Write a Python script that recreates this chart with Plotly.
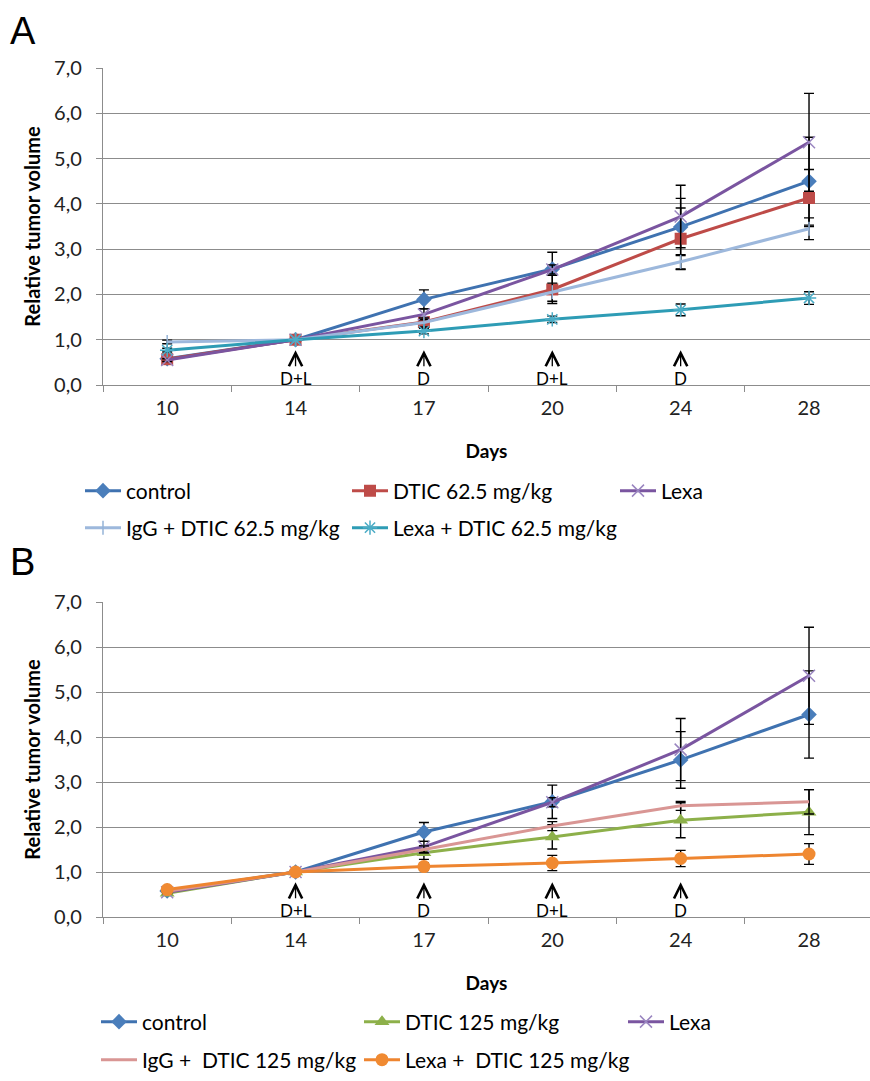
import plotly.graph_objects as go

days = ["10", "14", "17", "20", "24", "28"]
dose_days = ["14", "17", "20", "24"]
dose_labels = ["D+L", "D", "D+L", "D"]

# shared groups
control = [0.58, 1.00, 1.89, 2.56, 3.49, 4.50]
control_err = [0.03, 0.00, 0.21, 0.37, 0.63, 0.97]
lexa = [0.55, 1.00, 1.56, 2.55, 3.72, 5.36]
lexa_err = [0.03, 0.00, 0.12, 0.10, 0.69, 1.08]

# Panel A: DTIC 62.5 mg/kg
a_dtic = [0.57, 1.00, 1.39, 2.11, 3.23, 4.13]
a_dtic_err = [0.04, 0.00, 0.11, 0.31, 0.68, 0.63]
a_igg = [0.95, 1.00, 1.38, 2.05, 2.72, 3.45]
a_igg_err = [0.04, 0.00, 0.10, 0.20, 0.16, 0.24]
a_lexadtic = [0.77, 1.00, 1.19, 1.45, 1.66, 1.92]
a_lexadtic_err = [0.04, 0.00, 0.06, 0.07, 0.13, 0.14]

# Panel B: DTIC 125 mg/kg
b_dtic = [0.53, 1.00, 1.43, 1.78, 2.15, 2.33]
b_dtic_err = [0.03, 0.00, 0.15, 0.27, 0.39, 0.50]
b_igg = [0.57, 1.00, 1.50, 2.02, 2.47, 2.56]
b_igg_err = [0.03, 0.00, 0.08, 0.10, 0.10, 0.27]
b_lexadtic = [0.61, 1.00, 1.12, 1.20, 1.30, 1.40]
b_lexadtic_err = [0.03, 0.00, 0.08, 0.17, 0.18, 0.23]

W, H = 870, 1081
FONT = "Lato"
GRID = "#8c8c8c"

def py(px):
    return 1 - px / H

def px_x(px):
    return px / W

fig = go.Figure()

def add(name, y, err, color, marker, xa, ya, leg, mode="lines+markers", lw=3):
    fig.add_trace(go.Scatter(
        x=days, y=y, name=name, mode=mode,
        line=dict(color=color, width=lw),
        marker=marker,
        error_y=dict(type="data", array=err, visible=True, color="black",
                     thickness=1.4, width=5),
        xaxis=xa, yaxis=ya, legend=leg, showlegend=True,
    ))

# Panel A
add("control", control, control_err, "#3F72B0",
    dict(symbol="diamond", size=12, color="#4A7EBB"), "x", "y", "legend")
add("DTIC 62.5 mg/kg", a_dtic, a_dtic_err, "#BE4B48",
    dict(symbol="square", size=12, color="#BE4B48"), "x", "y", "legend2")
add("Lexa", lexa, lexa_err, "#7A55A0",
    dict(symbol="x-thin", size=12, color="#9A86C0", line=dict(color="#9A86C0", width=1.5)), "x", "y", "legend3")
add("IgG + DTIC 62.5 mg/kg", a_igg, a_igg_err, "#9DB8DC",
    dict(symbol="line-ns", size=10, color="#95B3D7", line=dict(color="#95B3D7", width=1.5)), "x", "y", "legend4")
add("Lexa + DTIC 62.5 mg/kg", a_lexadtic, a_lexadtic_err, "#2E9CB5",
    dict(symbol="asterisk", size=12, color="#4BACC6", line=dict(color="#4BACC6", width=1.5)), "x", "y", "legend5")

# Panel B
add("control", control, control_err, "#3F72B0",
    dict(symbol="diamond", size=12, color="#4A7EBB"), "x2", "y2", "legend6")
add("DTIC 125 mg/kg", b_dtic, b_dtic_err, "#8DB04A",
    dict(symbol="triangle-up", size=13, color="#8DB04A"), "x2", "y2", "legend7")
add("Lexa", lexa, lexa_err, "#7A55A0",
    dict(symbol="x-thin", size=12, color="#9A86C0", line=dict(color="#9A86C0", width=1.5)), "x2", "y2", "legend8")
add("IgG +  DTIC 125 mg/kg", b_igg, b_igg_err, "#D99694",
    dict(size=1), "x2", "y2", "legend9", mode="lines")
add("Lexa +  DTIC 125 mg/kg", b_lexadtic, b_lexadtic_err, "#EE8530",
    dict(symbol="circle", size=13, color="#F08A32"), "x2", "y2", "legend10")

xr = [-0.5, 5.5 - 3.2 / 128.4]
xdom = [px_x(103), 1.0]

def xaxis(anchor):
    return dict(
        type="category", categoryorder="array", categoryarray=days,
        domain=xdom, range=xr, anchor=anchor, automargin=False,
        tickson="boundaries", ticks="outside", ticklen=6, tickcolor=GRID, tickwidth=1.3,
        showline=True, linecolor=GRID, linewidth=1.3, showgrid=False, zeroline=False,
        ticklabelstandoff=5,
        tickfont=dict(family=FONT, size=20, color="#222"),
        title=dict(text="Days", font=dict(family=FONT, size=19, color="#000", weight="bold"), standoff=26),
    )

def yaxis(anchor, top, bottom):
    return dict(
        domain=[py(bottom), py(top)], range=[0, 7], dtick=1, tick0=0,
        tickformat=".1f", anchor=anchor, automargin=False,
        showline=True, linecolor=GRID, linewidth=1.3,
        showgrid=True, gridcolor=GRID, gridwidth=1.3, zeroline=False,
        ticks="outside", ticklen=6, tickcolor=GRID, tickwidth=1.3,
        ticklabelstandoff=10,
        tickfont=dict(family=FONT, size=20, color="#222"),
        title=dict(text="Relative tumor volume", font=dict(family=FONT, size=20, color="#000", weight="bold"), standoff=8),
    )

annotations = []
for xref, yref in (("x", "y"), ("x2", "y2")):
    for d, lab in zip(dose_days, dose_labels):
        annotations.append(dict(
            x=days.index(d), y=0.77, xref=xref, yref=yref, text=lab,
            showarrow=True, arrowhead=5, arrowsize=2, arrowwidth=1.3, arrowcolor="black",
            ax=0, ay=28, standoff=0,
            font=dict(family=FONT, size=17, color="black"),
        ))
annotations.append(dict(x=px_x(8), y=py(8), xref="paper", yref="paper", text="A", showarrow=False,
                        xanchor="left", yanchor="top", font=dict(family="Liberation Sans", size=38, color="black")))
annotations.append(dict(x=px_x(8), y=py(539), xref="paper", yref="paper", text="B", showarrow=False,
                        xanchor="left", yanchor="top", font=dict(family="Liberation Sans", size=38, color="black")))

def leg(icon_px, ypx):
    return dict(x=px_x(icon_px - 5), y=py(ypx), xanchor="left", yanchor="middle", orientation="h",
                bgcolor="rgba(0,0,0,0)", borderwidth=0, itemwidth=36,
                font=dict(family=FONT, size=21, color="#000"))

layout = dict(
    width=W, height=H, margin=dict(l=0, r=0, t=0, b=0, autoexpand=False),
    paper_bgcolor="white", plot_bgcolor="white", separators=",.",
    xaxis=xaxis("y"), yaxis=yaxis("x", 68, 385),
    xaxis2=xaxis("y2"), yaxis2=yaxis("x2", 602, 917),
    annotations=annotations,
    legend=leg(85, 491), legend2=leg(352, 491), legend3=leg(620, 491),
    legend4=leg(85, 528), legend5=leg(352, 528),
    legend6=leg(101, 1022), legend7=leg(364, 1022), legend8=leg(628, 1022),
    legend9=leg(101, 1060), legend10=leg(364, 1060),
)
fig.update_layout(**layout)
fig.write_html("out.html", config={"displayModeBar": False},
               post_script="document.body.style.margin='0';document.body.style.overflow='hidden';")
